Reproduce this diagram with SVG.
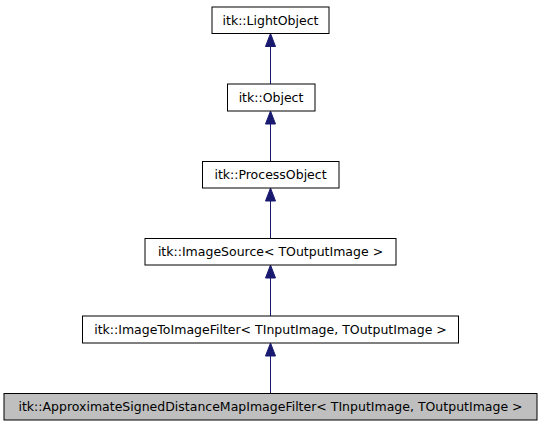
<svg xmlns="http://www.w3.org/2000/svg" width="541" height="427" viewBox="0 0 541 427">
<style>
.box{fill:#ffffff;stroke:#000000;stroke-width:1}
.cur{fill:#bfbfbf;stroke:#000000;stroke-width:1}
text{font-family:"DejaVu Sans",sans-serif;font-size:12.5px;fill:#000000;text-anchor:middle}
.edge{stroke:#191970;stroke-width:1;fill:none}
.head{fill:#191970;stroke:#191970;stroke-width:1}
</style>
<rect x="0" y="0" width="541" height="427" fill="#ffffff"/>
<g id="connectors">
<line class="edge" x1="270.5" y1="84" x2="270.5" y2="46"/>
<polygon class="head" points="270.5,33.5 265.5,46.5 275.5,46.5"/>
<line class="edge" x1="270.5" y1="161.5" x2="270.5" y2="124"/>
<polygon class="head" points="270.5,111 265.5,124 275.5,124"/>
<line class="edge" x1="270.5" y1="238.5" x2="270.5" y2="201"/>
<polygon class="head" points="270.5,188 265.5,201 275.5,201"/>
<line class="edge" x1="270.5" y1="316" x2="270.5" y2="278"/>
<polygon class="head" points="270.5,265 265.5,278 275.5,278"/>
<line class="edge" x1="270.5" y1="393" x2="270.5" y2="356"/>
<polygon class="head" points="270.5,343 265.5,356 275.5,356"/>
</g>
<g id="lightobject">
<rect class="box" x="212" y="7" width="117" height="26.5"/>
<text x="270.5" y="24.7">itk::LightObject</text>
</g>
<g id="object">
<rect class="box" x="227.5" y="84" width="87.5" height="27"/>
<text x="271" y="102">itk::Object</text>
</g>
<g id="processobject">
<rect class="box" x="202.5" y="161.5" width="136.5" height="26.5"/>
<text x="270.5" y="179.2">itk::ProcessObject</text>
</g>
<g id="imagesource">
<rect class="box" x="145" y="238.5" width="251" height="26.5"/>
<text x="270.5" y="256.2">itk::ImageSource&lt; TOutputImage &gt;</text>
</g>
<g id="imagetoimagefilter">
<rect class="box" x="82.5" y="316" width="376" height="27"/>
<text x="270.5" y="334">itk::ImageToImageFilter&lt; TInputImage, TOutputImage &gt;</text>
</g>
<g id="approximatesigned">
<rect class="cur" x="4" y="393.5" width="533" height="26.5"/>
<text x="270.5" y="411.2">itk::ApproximateSignedDistanceMapImageFilter&lt; TInputImage, TOutputImage &gt;</text>
</g>
</svg>
